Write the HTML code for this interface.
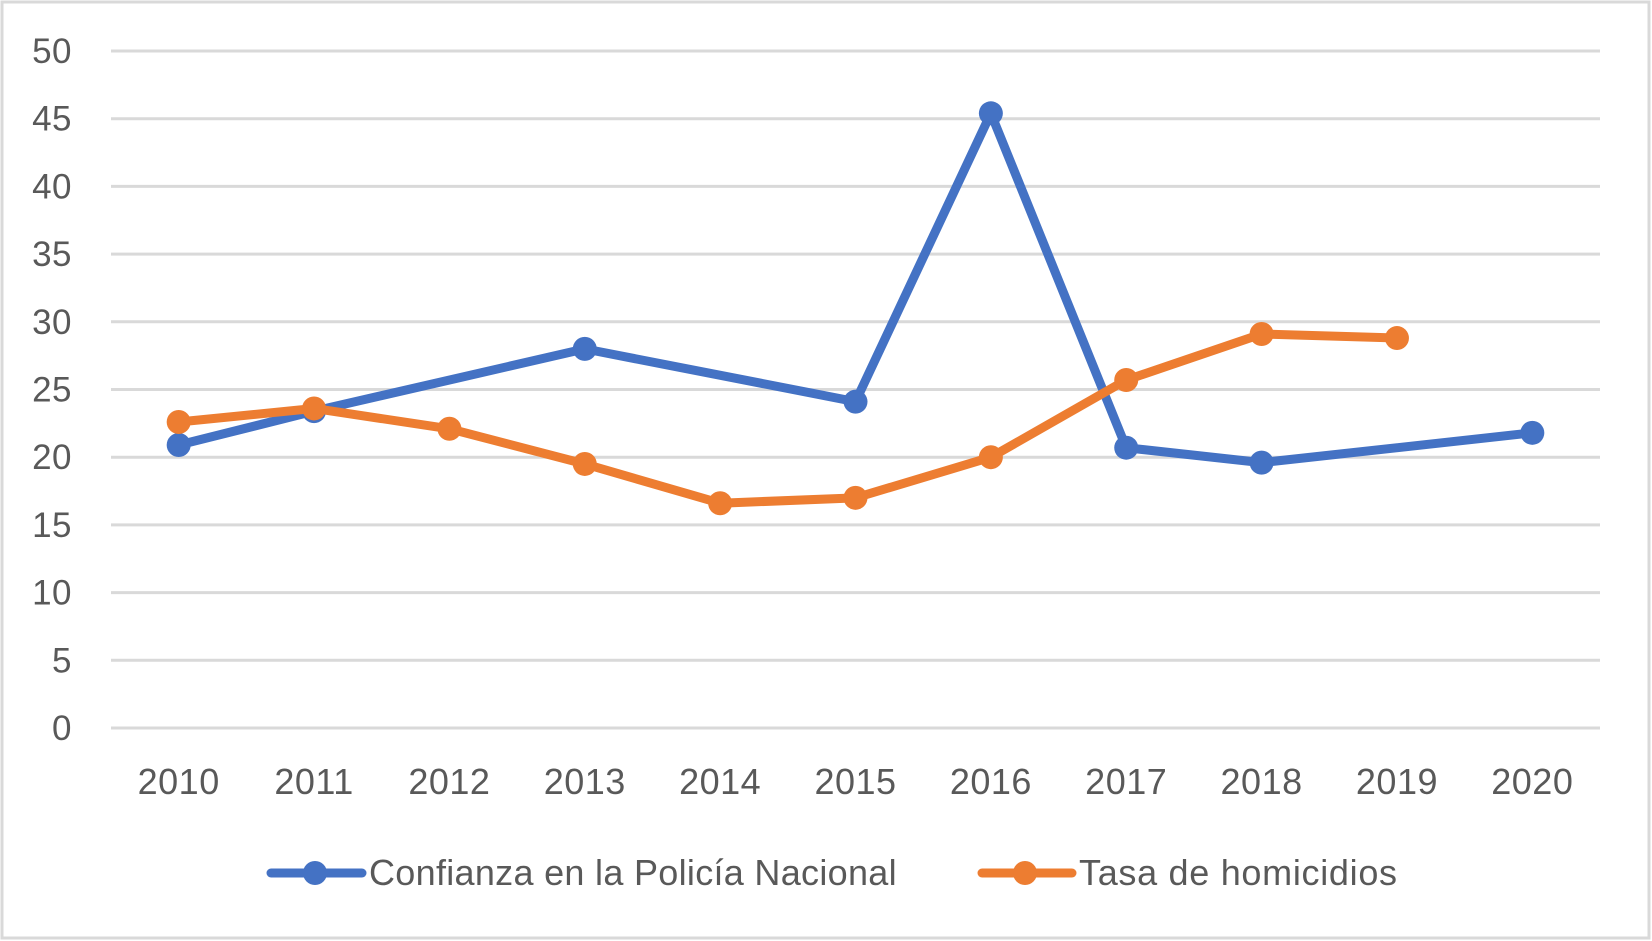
<!DOCTYPE html>
<html><head><meta charset="utf-8"><style>
html,body{margin:0;padding:0;background:#fff}
svg{display:block}
text{font-family:"Liberation Sans",sans-serif;fill:#595959}
</style></head><body>
<svg id="chart" width="1652" height="941">
<rect x="2" y="2" width="1647" height="936" fill="#fff" stroke="#d9d9d9" stroke-width="3"/>
<g id="grid"></g><g id="ylab"></g><g id="xlab"></g><g id="series"></g>
<g>
 <g>
  <line x1="271" y1="873" x2="362" y2="873" stroke="#4472C4" stroke-width="9" stroke-linecap="round"/>
  <circle cx="315" cy="873" r="12" fill="#4472C4"/>
  <text x="369" y="885" font-size="36" letter-spacing="0.3">Confianza en la Policía Nacional</text>
 </g>
 <g>
  <line x1="982" y1="873" x2="1072" y2="873" stroke="#ED7D31" stroke-width="9" stroke-linecap="round"/>
  <circle cx="1025" cy="873" r="12" fill="#ED7D31"/>
  <text x="1079" y="885" font-size="36" letter-spacing="0.7">Tasa de homicidios</text>
 </g>
</g>
</svg>
<script>
const categories=["2010","2011","2012","2013","2014","2015","2016","2017","2018","2019","2020"];
const confianza=[20.9,23.4,null,28.0,null,24.1,45.4,20.7,19.6,null,21.8];
const homicidios=[22.6,23.6,22.1,19.5,16.6,17.0,20.0,25.7,29.1,28.8,null];
const yTicks=[0,5,10,15,20,25,30,35,40,45,50];
const NS="http://www.w3.org/2000/svg";
const L=111,R=1600,T=51,B=728,yMax=50;
const xs=i=>L+(R-L)/categories.length*(i+0.5);
const ys=v=>B-(B-T)*v/yMax;
function mk(t,a,p){const e=document.createElementNS(NS,t);for(const k in a)e.setAttribute(k,a[k]);p.appendChild(e);return e;}
const grid=document.getElementById('grid'),yl=document.getElementById('ylab'),xl=document.getElementById('xlab'),sr=document.getElementById('series');
yTicks.forEach(v=>{
 const g=mk('line',{x1:L,x2:R,y1:ys(v),y2:ys(v),stroke:'#d9d9d9','stroke-width':3},grid);
 
 
 const t=mk('text',{x:72,y:ys(v)+12,'text-anchor':'end','font-size':35,'letter-spacing':0.5},yl);t.textContent=v;
 
 
});
categories.forEach((c,i)=>{
 const t=mk('text',{x:xs(i),y:794,'text-anchor':'middle','font-size':36,'letter-spacing':0.5},xl);t.textContent=c;
 
 
});
function draw(data,color,name){
 const pts=[];data.forEach((v,i)=>{if(v!==null)pts.push([xs(i),ys(v)]);});
 const p=mk('polyline',{points:pts.map(p=>p.join(',')).join(' '),fill:'none',stroke:color,'stroke-width':9,'stroke-linejoin':'round','stroke-linecap':'round'},sr);
 
 
 data.forEach((v,i)=>{if(v===null)return;
  const c=mk('circle',{cx:xs(i),cy:ys(v),r:12,fill:color},sr);
  
  
 });
}
draw(confianza,'#4472C4','confianza');
draw(homicidios,'#ED7D31','homicidios');
</script>
</body></html>
